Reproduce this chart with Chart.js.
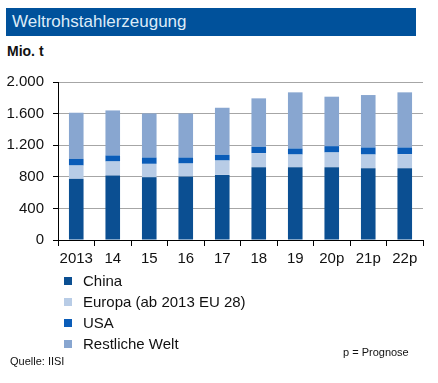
<!DOCTYPE html>
<html lang="de">
<head>
<meta charset="UTF-8">
<title>Weltrohstahlerzeugung</title>
<script src="https://cdn.jsdelivr.net/npm/chart.js"></script>
<style>
    body {
        margin: 0;
        width: 438px;
        height: 383px;
        background: #fff;
        font-family: Arial, "Liberation Sans", sans-serif;
        position: relative;
        overflow: hidden;
    }
    .banner {
        position: absolute;
        left: 6px; top: 8px;
        width: 410px; height: 28px;
        background: #00519b;
        color: #dcebf8;
        font-size: 17px;
        line-height: 28px;
        padding-left: 6px;
        box-sizing: border-box;
    }
    .unit {
        position: absolute;
        left: 7px; top: 43px;
        font-size: 14px;
        font-weight: bold;
        color: #111;
    }
    #wrap {
        position: absolute;
        left: 0; top: 64px;
        width: 430px; height: 209px;
    }
    .legend {
        position: absolute;
        left: 64px; top: 270px;
        font-size: 15px;
        color: #111;
    }
    .legend div { height: 21px; line-height: 21px; }
    .legend span {
        display: inline-block;
        width: 8px; height: 8px;
        margin-right: 11px;
        vertical-align: 1px;
    }
    .note { position: absolute; font-size: 11px; color: #111; }
</style>
</head>
<body>
<div class="banner">Weltrohstahlerzeugung</div>
<div class="unit">Mio. t</div>
<div id="wrap"><canvas id="chart"></canvas></div>
<div class="legend" id="legend"></div>
<div class="note" style="left:10px; top:355px;">Quelle: IISI</div>
<div class="note" style="left:343px; top:346px;">p = Prognose</div>

<script>
    const years = ['2013', '14', '15', '16', '17', '18', '19', '20p', '21p', '22p'];
    const china = [774, 816, 795, 803, 824, 922, 922, 922, 909, 909];
    const europa = [169, 178, 169, 165, 182, 177, 160, 186, 173, 178];
    const usa = [84, 76, 80, 76, 72, 81, 76, 80, 89, 84];
    const restWelt = [584, 570, 558, 558, 596, 613, 711, 626, 664, 698];
    const yTicks = [0, 400, 800, 1200, 1600, 2000];

    const seriesNames = ['China', 'Europa (ab 2013 EU 28)', 'USA', 'Restliche Welt'];
    const seriesColors = ['#0b4f92', '#b8cce6', '#0a5cb8', '#88a6d0'];
    const seriesData = [china, europa, usa, restWelt];

    const legendBox = document.getElementById('legend');
    seriesNames.forEach((name, i) => {
        const row = document.createElement('div');
        row.innerHTML = '<span style="background:' + seriesColors[i] + '"></span>' + name;
        legendBox.appendChild(row);
    });

    const font = { family: 'Arial, "Liberation Sans", sans-serif', size: 15 };

    new Chart(document.getElementById('chart'), {
        type: 'bar',
        data: {
            labels: years,
            datasets: seriesNames.map((name, i) => ({
                label: name,
                data: seriesData[i],
                backgroundColor: seriesColors[i],
                barPercentage: 0.4,
                categoryPercentage: 1
            }))
        },
        options: {
            responsive: true,
            maintainAspectRatio: false,
            animation: false,
            layout: { padding: { top: 2, right: 7, left: 0, bottom: 0 } },
            plugins: { legend: { display: false }, tooltip: { enabled: false } },
            scales: {
                x: {
                    stacked: true,
                    grid: { drawOnChartArea: false, tickLength: 6, color: '#000', offset: true },
                    border: { color: '#000' },
                    ticks: { color: '#111', font: font, padding: 4, maxRotation: 0 },
                    afterFit: s => { s.height = 33; }
                },
                y: {
                    stacked: true,
                    min: 0,
                    max: 2000,
                    afterBuildTicks: s => { s.ticks = yTicks.map(v => ({ value: v })); },
                    grid: {
                        color: '#a6a6a6',
                        tickColor: '#000',
                        tickLength: 5
                    },
                    border: { color: '#000' },
                    ticks: {
                        color: '#111',
                        font: font,
                        padding: 9,
                        callback: v => v.toLocaleString('de-DE')
                    },
                    afterFit: s => { s.width = 58; }
                }
            }
        }
    });
</script>
</body>
</html>
